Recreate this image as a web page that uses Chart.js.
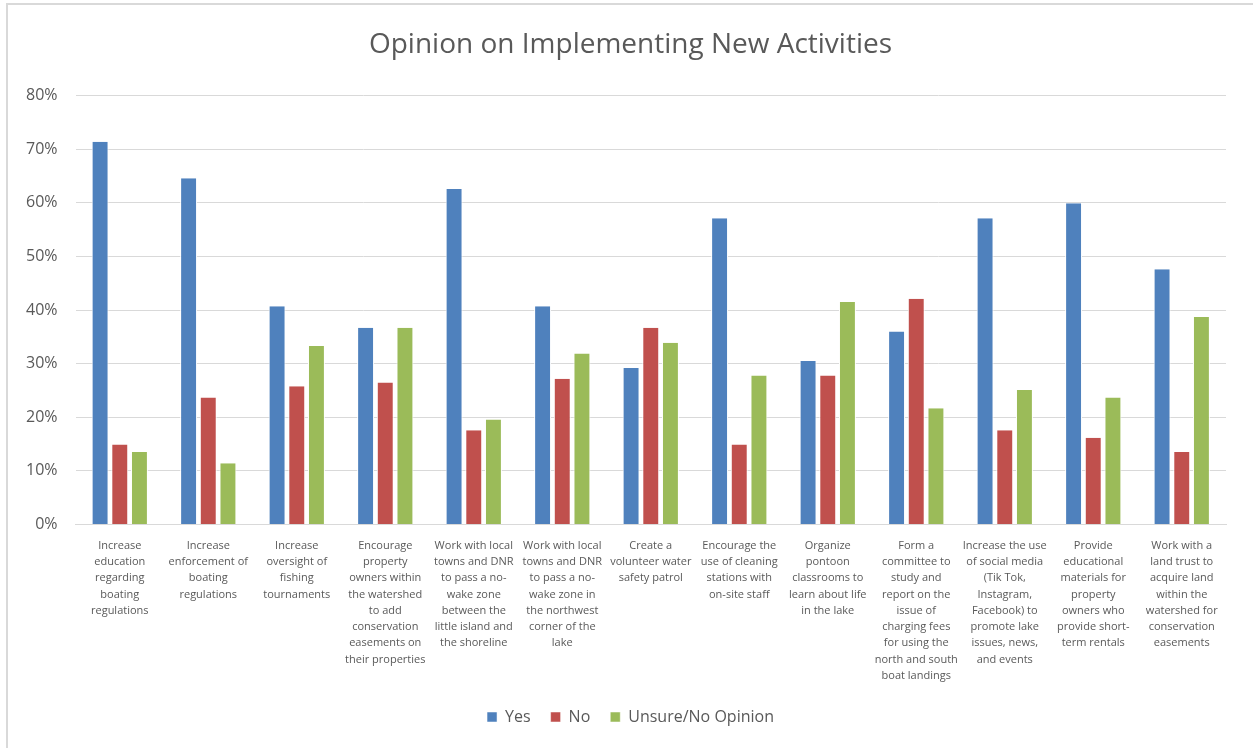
<!DOCTYPE html>
<html>
<head>
<meta charset="utf-8">
<title>Opinion on Implementing New Activities</title>
<script src="https://cdn.jsdelivr.net/npm/chart.js@4.4.1/dist/chart.umd.min.js"></script>
<style>
    html, body { margin: 0; padding: 0; background: #fff; overflow: hidden; }
    #frame {
        position: absolute; left: 6px; top: 3px;
        width: 1260px; height: 760px;
        border-left: 2px solid #d9d9d9; border-top: 2px solid #d9d9d9;
    }
    #wrap { position: absolute; left: -8px; top: -5px; width: 1253px; height: 748px; }
</style>
</head>
<body>
<div id="frame"><div id="wrap"><canvas id="chart"></canvas></div></div>
<script>
// Categories (pre-wrapped as in the original)
const categories = [
    ['Increase', 'education', 'regarding', 'boating', 'regulations'],
    ['Increase', 'enforcement of', 'boating', 'regulations'],
    ['Increase', 'oversight of', 'fishing', 'tournaments'],
    ['Encourage', 'property', 'owners within', 'the watershed', 'to add', 'conservation', 'easements on', 'their properties'],
    ['Work with local', 'towns and DNR', 'to pass a no-', 'wake zone', 'between the', 'little island and', 'the shoreline'],
    ['Work with local', 'towns and DNR', 'to pass a no-', 'wake zone in', 'the northwest', 'corner of the', 'lake'],
    ['Create a', 'volunteer water', 'safety patrol'],
    ['Encourage the', 'use of cleaning', 'stations with', 'on-site staff'],
    ['Organize', 'pontoon', 'classrooms to', 'learn about life', 'in the lake'],
    ['Form a', 'committee to', 'study and', 'report on the', 'issue of', 'charging fees', 'for using the', 'north and south', 'boat landings'],
    ['Increase the use', 'of social media', '(Tik Tok,', 'Instagram,', 'Facebook) to', 'promote lake', 'issues, news,', 'and events'],
    ['Provide', 'educational', 'materials for', 'property', 'owners who', 'provide short-', 'term rentals'],
    ['Work with a', 'land trust to', 'acquire land', 'within the', 'watershed for', 'conservation', 'easements']
];

// Series values (fractions)
const yesValues    = [0.714, 0.646, 0.407, 0.367, 0.626, 0.407, 0.292, 0.571, 0.305, 0.360, 0.571, 0.599, 0.476];
const noValues     = [0.149, 0.237, 0.258, 0.265, 0.176, 0.272, 0.367, 0.149, 0.278, 0.421, 0.176, 0.162, 0.135];
const unsureValues = [0.135, 0.114, 0.333, 0.367, 0.196, 0.319, 0.339, 0.278, 0.415, 0.217, 0.251, 0.237, 0.387];

const seriesNames = ['Yes', 'No', 'Unsure/No Opinion'];
const colors = {
    yes: '#4f81bd',
    no: '#c0504d',
    unsure: '#9bbb59'
};

const textColor = '#595959';
const fontFamily = "'Open Sans', 'Liberation Sans', sans-serif";

Chart.defaults.font.family = fontFamily;
Chart.defaults.color = textColor;

function makeDataset(label, data, color) {
    return {
        label: label,
        data: data,
        backgroundColor: color,
        borderColor: '#ffffff',
        borderWidth: { left: 1, right: 1, top: 0, bottom: 0 },
        borderSkipped: false,
        categoryPercentage: 0.667,
        barPercentage: 0.86
    };
}

const ctx = document.getElementById('chart');
new Chart(ctx, {
    type: 'bar',
    data: {
        labels: categories,
        datasets: [
            makeDataset(seriesNames[0], yesValues, colors.yes),
            makeDataset(seriesNames[1], noValues, colors.no),
            makeDataset(seriesNames[2], unsureValues, colors.unsure)
        ]
    },
    options: {
        responsive: true,
        maintainAspectRatio: false,
        animation: false,
        layout: { padding: { left: 8, right: 0, top: 12, bottom: 13 } },
        plugins: {
            title: {
                display: true,
                text: 'Opinion on Implementing New Activities',
                color: textColor,
                font: { size: 28, weight: 'normal' },
                padding: { top: 16, bottom: 34 }
            },
            legend: {
                position: 'bottom',
                labels: {
                    boxWidth: 10,
                    boxHeight: 10,
                    padding: 20,
                    color: textColor,
                    font: { size: 16 }
                }
            },
            tooltip: { enabled: false }
        },
        scales: {
            x: {
                grid: { display: false },
                border: { color: '#d9d9d9', width: 1 },
                ticks: {
                    autoSkip: false,
                    maxRotation: 0,
                    minRotation: 0,
                    color: textColor,
                    font: { size: 11, lineHeight: 1.48 },
                    padding: 5
                }
            },
            y: {
                min: 0,
                max: 0.8,
                border: { display: false },
                grid: { color: '#d9d9d9', lineWidth: 1, drawTicks: false },
                ticks: {
                    stepSize: 0.1,
                    color: textColor,
                    font: { size: 16 },
                    padding: 18,
                    callback: function (v) { return Math.round(v * 100) + '%'; }
                }
            },
            // empty right-hand spacer so the title and legend centre on the whole picture
            spacer: {
                type: 'linear',
                position: 'right',
                grid: { display: false },
                border: { display: false },
                ticks: { display: false },
                afterFit: function (scale) { scale.width = 27; }
            }
        }
    }
});
</script>
</body>
</html>
